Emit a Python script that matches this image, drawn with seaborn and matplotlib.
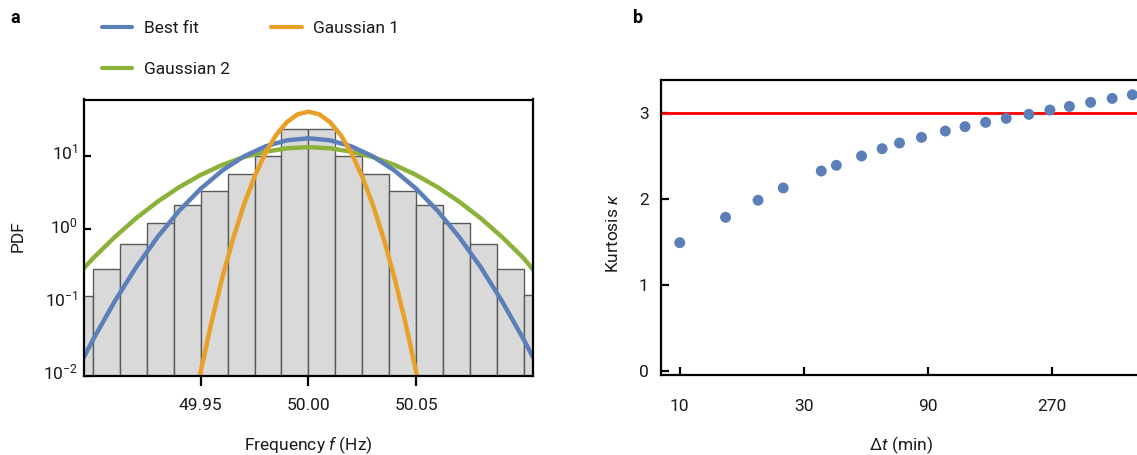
import numpy as np
import pandas as pd
import matplotlib
matplotlib.use("Agg")
import matplotlib.pyplot as plt
import matplotlib.transforms as mtransforms
from matplotlib.ticker import NullLocator, FixedLocator, FixedFormatter
from matplotlib.lines import Line2D
import seaborn as sns

# ---------------- data ----------------
# panel a: histogram of frequency (bin centres, Hz) and PDF heights
bin_centers = [49.89375, 49.90625, 49.91875, 49.93125, 49.94375, 49.95625,
               49.96875, 49.98125, 49.99375, 50.00625, 50.01875, 50.03125,
               50.04375, 50.05625, 50.06875, 50.08125, 50.09375, 50.10625]
bin_pdf = [0.122, 0.29, 0.64, 1.24, 2.18, 3.39, 5.73, 10.0, 23.4,
           23.4, 10.0, 5.73, 3.39, 2.18, 1.24, 0.64, 0.29, 0.125]
bin_width = 0.0125

# fitted curves
freq_fit = [49.8955, 49.90, 49.91, 49.92, 49.93, 49.94, 49.95, 49.96, 49.97,
            49.98, 49.99, 50.00, 50.01, 50.02, 50.03, 50.04, 50.05, 50.06,
            50.07, 50.08, 50.09, 50.10, 50.1045]
best_fit = [0.0175, 0.0314, 0.104, 0.307, 0.793, 1.81, 3.62, 6.41, 9.98, 13.7,
            16.6, 17.7, 16.6, 13.7, 9.98, 6.41, 3.62, 1.81, 0.793, 0.307,
            0.104, 0.0314, 0.0175]
gauss2 = [0.293, 0.405, 0.787, 1.43, 2.41, 3.80, 5.58, 7.65, 9.78, 11.6, 12.9,
          13.4, 12.9, 11.6, 9.78, 7.65, 5.58, 3.80, 2.41, 1.43, 0.787, 0.405,
          0.28]
freq_g1 = [49.945, 49.95, 49.955, 49.96, 49.965, 49.97, 49.975, 49.98, 49.985,
           49.99, 49.995, 50.00, 50.005, 50.01, 50.015, 50.02, 50.025, 50.03,
           50.035, 50.04, 50.045, 50.05, 50.055]
gauss1 = [0.00207, 0.0115, 0.0545, 0.219, 0.746, 2.16, 5.30, 11.1, 19.6, 29.5,
          37.7, 40.9, 37.7, 29.5, 19.6, 11.1, 5.30, 2.16, 0.746, 0.219, 0.0545,
          0.0115, 0.00207]

# panel b: kurtosis vs time increment
dt_min = [10, 15, 20, 25, 35, 40, 50, 60, 70, 85, 105, 125, 150, 180, 220,
          265, 315, 380, 460, 550]
kurtosis = [1.49, 1.785, 1.983, 2.126, 2.323, 2.389, 2.497, 2.582, 2.648,
            2.714, 2.787, 2.838, 2.888, 2.934, 2.981, 3.031, 3.073, 3.12,
            3.166, 3.209]
gauss_kurtosis = 3

x_ticks_a = [49.95, 50.00, 50.05]
x_ticklabels_a = ["49.95", "50.00", "50.05"]
y_ticks_a = [1e-2, 1e-1, 1e0, 1e1]
y_ticklabels_a = ["$10^{-2}$", "$10^{-1}$", "$10^{0}$", "$10^{1}$"]
x_ticks_b = [10, 30, 90, 270]
y_ticks_b = [0, 1, 2, 3]

# ---------------- style ----------------
sns.set_style("white")
plt.rcParams["font.family"] = ["Roboto", "DejaVu Sans"]
plt.rcParams["font.weight"] = "normal"
plt.rcParams["mathtext.fontset"] = "custom"
plt.rcParams["mathtext.rm"] = "Roboto"
plt.rcParams["mathtext.it"] = "Roboto:italic"
plt.rcParams["mathtext.bf"] = "Roboto:bold"
plt.rcParams["axes.unicode_minus"] = True

BLUE = "#5b7fb8"
ORANGE = "#e8a027"
GREEN = "#8bb23a"
FS = 12.5
TXT = "#1a1a1a"

fig = plt.figure(figsize=(11.37, 4.55), dpi=100)
ax1 = fig.add_axes([83.5 / 1137, 1 - 376 / 455, 449.8 / 1137, 276.5 / 455])
ax2 = fig.add_axes([661 / 1137, 1 - 375 / 455, 476 / 1137, 295 / 455])

# ---------------- panel a ----------------
edges = [c - bin_width / 2 for c in bin_centers] + [bin_centers[-1] + bin_width / 2]
hist_df = pd.DataFrame({"f": bin_centers, "pdf": bin_pdf})
sns.histplot(data=hist_df, x="f", weights="pdf", bins=edges, ax=ax1,
             color="#d9d9d9", alpha=1.0, edgecolor="#5a5a5a", linewidth=1.0,
             stat="count")
ax1.set_yscale("log")

fit_df = pd.DataFrame({"f": freq_fit, "best": best_fit, "g2": gauss2})
g1_df = pd.DataFrame({"f": freq_g1, "g1": gauss1})
sns.lineplot(data=fit_df, x="f", y="g2", ax=ax1, color=GREEN, lw=3.2)
sns.lineplot(data=fit_df, x="f", y="best", ax=ax1, color=BLUE, lw=3.2)
sns.lineplot(data=g1_df, x="f", y="g1", ax=ax1, color=ORANGE, lw=3.2)

ax1.set_xlim(49.8955, 50.1045)
ax1.set_ylim(0.0099, 60)
ax1.xaxis.set_major_locator(FixedLocator(x_ticks_a))
ax1.xaxis.set_major_formatter(FixedFormatter(x_ticklabels_a))
ax1.yaxis.set_major_locator(FixedLocator(y_ticks_a))
ax1.yaxis.set_major_formatter(FixedFormatter(y_ticklabels_a))
ax1.yaxis.set_minor_locator(NullLocator())
ax1.xaxis.set_minor_locator(NullLocator())
ax1.tick_params(axis="x", direction="out", length=7, width=1.6, pad=9,
                labelsize=FS, colors="black", labelcolor=TXT, bottom=True)
ax1.tick_params(axis="y", direction="in", length=5, width=1.6, pad=4,
                labelsize=FS, colors="black", labelcolor=TXT, left=True)
# lift the power-of-ten labels slightly, as in the original
shift_up = mtransforms.ScaledTranslation(0, 5 / 100, fig.dpi_scale_trans)
for lab in ax1.get_yticklabels():
    lab.set_transform(lab.get_transform() + shift_up)
for s in ax1.spines.values():
    s.set_visible(True)
    s.set_linewidth(1.6)
    s.set_color("black")
ax1.set_xlabel("Frequency $f$ (Hz)", fontsize=FS, color=TXT)
ax1.set_ylabel("PDF", fontsize=FS, color=TXT)
ax1.xaxis.label.set_va("center")
ax1.yaxis.label.set_va("center")
ax1.xaxis.set_label_coords(0.499, -0.25)
ax1.yaxis.set_label_coords(-0.1456, 0.505)

handles = [Line2D([], [], color=BLUE, lw=3),
           Line2D([], [], color=GREEN, lw=3),
           Line2D([], [], color=ORANGE, lw=3)]
labels = ["Best fit", "Gaussian 2", "Gaussian 1"]
fig.legend(handles, labels, ncol=2, loc="upper left",
           bbox_to_anchor=(102 / 1137, 1 - 21 / 455), frameon=False,
           fontsize=FS, handlelength=1.75, handletextpad=0.65,
           columnspacing=2.4, labelspacing=1.5, borderpad=0, borderaxespad=0,
           labelcolor=TXT)

# ---------------- panel b ----------------
kdf = pd.DataFrame({"dt": dt_min, "k": kurtosis})
ax2.axhline(gauss_kurtosis, color="#ff0000", lw=2.0, zorder=1)
sns.scatterplot(data=kdf, x="dt", y="k", ax=ax2, color=BLUE, s=62,
                edgecolor="none", zorder=3, clip_on=False)
ax2.set_xscale("log")
ax2.set_xlim(8.47, 573)
ax2.set_ylim(-0.047, 3.38)
ax2.xaxis.set_major_locator(FixedLocator(x_ticks_b))
ax2.xaxis.set_major_formatter(FixedFormatter([str(v) for v in x_ticks_b]))
ax2.xaxis.set_minor_locator(NullLocator())
ax2.yaxis.set_major_locator(FixedLocator(y_ticks_b))
ax2.yaxis.set_major_formatter(FixedFormatter([str(v) for v in y_ticks_b]))
ax2.tick_params(axis="x", direction="in", length=6, width=1.6, pad=17,
                labelsize=FS, colors="black", labelcolor=TXT, bottom=True)
ax2.tick_params(axis="y", direction="in", length=6, width=1.6, pad=9,
                labelsize=FS, colors="black", labelcolor=TXT, left=True)
for name, s in ax2.spines.items():
    s.set_linewidth(1.6)
    s.set_color("black")
    s.set_visible(name != "right")
ax2.set_xlabel("$\\Delta t$ (min)", fontsize=FS, color=TXT)
ax2.set_ylabel("Kurtosis $\\kappa$", fontsize=FS, color=TXT)
ax2.xaxis.label.set_va("center")
ax2.yaxis.label.set_va("center")
ax2.xaxis.set_label_coords(0.504, -0.237)
ax2.yaxis.set_label_coords(-0.1008, 0.48)

# panel letters
fig.text(10 / 1137, 1 - 18 / 455, "a", fontsize=13, fontweight="bold",
         ha="left", va="center", color="black")
fig.text(633 / 1137, 1 - 18 / 455, "b", fontsize=13, fontweight="bold",
         ha="left", va="center", color="black")

fig.savefig("out.png", dpi=100)
